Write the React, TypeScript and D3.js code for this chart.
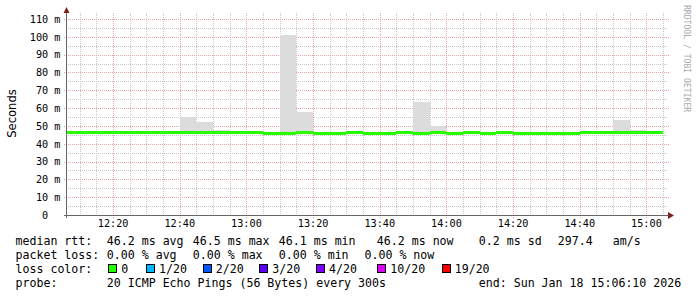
import React from 'react';
import * as d3 from 'd3';

// ---- data ----
const stepStarts = [
  '12:05', '12:10', '12:15', '12:20', '12:25', '12:30', '12:35', '12:40', '12:45',
  '12:50', '12:55', '13:00', '13:05', '13:10', '13:15', '13:20', '13:25', '13:30',
  '13:35', '13:40', '13:45', '13:50', '13:55', '14:00', '14:05', '14:10', '14:15',
  '14:20', '14:25', '14:30', '14:35', '14:40', '14:45', '14:50', '14:55', '15:00',
];
const medianRtt = [
  46.4, 46.4, 46.4, 46.4, 46.4, 46.4, 46.4, 46.4, 46.4,
  46.4, 46.4, 46.4, 45.8, 45.8, 46.4, 45.8, 45.8, 46.4,
  45.8, 45.8, 46.4, 45.8, 46.4, 45.8, 46.4, 45.8, 46.4,
  45.8, 45.8, 45.8, 45.8, 46.4, 46.4, 46.4, 46.4, 46.4,
];
const smokeMax: (number | null)[] = [
  null, null, null, null, null, null, null, 54.8, 52.4,
  47.9, null, null, null, 101.0, 58.0, null, null, null,
  null, null, null, 63.2, 50.1, null, null, null, null,
  null, null, null, null, null, null, 53.5, 47.9, null,
];
const yTickValues = [0, 10, 20, 30, 40, 50, 60, 70, 80, 90, 100, 110];
const yMinorValues = [5, 15, 25, 35, 45, 55, 65, 75, 85, 95, 105];

const rttItems = ['median rtt:', '46.2 ms avg', '46.5 ms max', '46.1 ms min', '46.2 ms now', '0.2 ms sd', '297.4', 'am/s'];
const lossItems = ['packet loss:', '0.00 % avg', '0.00 % max', '0.00 % min', '0.00 % now'];
const lossColorLabels = ['0', '1/20', '2/20', '3/20', '4/20', '10/20', '19/20'];
const lossColors = ['#26ff00', '#00b8ff', '#0059ff', '#5e00ff', '#7e00ff', '#dd00ff', '#ff0000'];
const probeItems = ['probe:', '20 ICMP Echo Pings (56 Bytes) every 300s', 'end: Sun Jan 18 15:06:10 2026'];

// ---- layout ----
const W = 697, H = 297;
const X0 = 67, X1 = 667, Y0 = 215, YTOP = 13;
const rttX = [16, 107.3, 193.3, 279.3, 377.3, 479.3, 558.3, 613.3];
const lossX = [16, 107.3, 193.3, 279.3, 365];
const boxX = [108.3, 146, 202.7, 259.3, 316, 377.3, 441.7];
const probeX = [16, 107.3, 479.3];

const mono = '"DejaVu Sans Mono", monospace';
const parseT = (s: string) => {
  const [h, m] = s.split(':').map(Number);
  return new Date(2026, 0, 18, h, m, 0);
};
const tStart = new Date(2026, 0, 18, 12, 6, 10);
const tEnd = new Date(2026, 0, 18, 15, 6, 10);

export default function App() {
  const x = d3.scaleTime().domain([tStart, tEnd]).range([X0, X1]);
  const y = d3.scaleLinear().domain([0, 110]).range([Y0, 19]);
  const fmt = d3.timeFormat('%H:%M');

  const minorT = d3.timeMinute.every(5)!.range(tStart, tEnd).filter(t => t.getMinutes() % 20 !== 0);
  const majorT = d3.timeMinute.every(20)!.range(tStart, tEnd);

  const px = (v: number) => Math.round(v) + 0.5;
  const clampX = (v: number) => Math.max(X0, Math.min(X1, v));

  const gridGray = '#c6c6c6';
  const gridRed = '#e8a2a2';
  const legendFs = 11.6;
  const axisFs = 10.2;

  return (
    <svg width={W} height={H} style={{ position: 'absolute', left: 0, top: 0 }}>
      <rect x={0} y={0} width={W} height={H} fill="#ffffff" />
      {/* grid */}
      <g shapeRendering="crispEdges">
        {yMinorValues.map(v => (
          <line key={'ym' + v} x1={X0 - 1} x2={X1 + 1} y1={px(y(v))} y2={px(y(v))} stroke={gridGray} strokeDasharray="1,1" />
        ))}
        {minorT.map(t => (
          <line key={'xm' + t.getTime()} x1={px(x(t))} x2={px(x(t))} y1={YTOP} y2={Y0 + 1} stroke={gridGray} strokeDasharray="1,1" />
        ))}
        {yTickValues.filter(v => v > 0).map(v => (
          <line key={'yM' + v} x1={X0 - 3} x2={X1 + 2} y1={px(y(v))} y2={px(y(v))} stroke={gridRed} strokeDasharray="1,1" />
        ))}
        {majorT.map(t => (
          <line key={'xM' + t.getTime()} x1={px(x(t))} x2={px(x(t))} y1={YTOP} y2={Y0 + 3} stroke={gridRed} strokeDasharray="1,1" />
        ))}
      </g>
      {/* smoke */}
      <g shapeRendering="crispEdges">
        {stepStarts.map((s, i) => {
          const mx = smokeMax[i];
          if (mx == null) return null;
          const t0 = parseT(s);
          const t1 = d3.timeMinute.offset(t0, 5);
          const xa = clampX(x(t0)), xb = clampX(x(t1));
          return (
            <rect key={'s' + i} x={Math.round(xa)} width={Math.round(xb) - Math.round(xa)}
              y={Math.round(y(mx))} height={Math.round(y(medianRtt[i])) - Math.round(y(mx))} fill="#dcdcdc" />
          );
        })}
      </g>
      {/* median band */}
      <g shapeRendering="crispEdges">
        {stepStarts.map((s, i) => {
          const t0 = parseT(s);
          const t1 = d3.timeMinute.offset(t0, 5);
          const xa = clampX(x(t0)), xb = clampX(x(t1));
          const yc = y(medianRtt[i]);
          return (
            <rect key={'m' + i} x={Math.round(xa)} width={Math.round(xb) - Math.round(xa)}
              y={Math.round(yc - 1.5)} height={3} fill={lossColors[0]} />
          );
        })}
      </g>
      {/* axes */}
      <g shapeRendering="crispEdges">
        <line x1={X0 - 0.5} x2={X0 - 0.5} y1={Y0 + 3} y2={10} stroke="#666" />
        <line x1={X0 - 3} x2={X1 + 3} y1={Y0 + 0.5} y2={Y0 + 0.5} stroke="#666" />
      </g>
      <path d={`M${X0 - 3.5},13 L${X0 - 0.5},7 L${X0 + 2.5},13 Z`} fill="#7f1f1f" />
      <path d={`M${X1 + 1},212 L${X1 + 7},215.5 L${X1 + 1},219 Z`} fill="#7f1f1f" />
      {/* y labels */}
      <g fontFamily={mono} fontSize={axisFs} fill="#000">
        {yTickValues.map(v => (
          <text key={'yl' + v} x={v === 0 ? 60.5 - 2 * 0.602 * axisFs : 60.5} y={y(v) + 3.8} textAnchor="end">
            {v === 0 ? '0' : `${v} m`}
          </text>
        ))}
        {majorT.map(t => (
          <text key={'xl' + t.getTime()} x={x(t)} y={227} textAnchor="middle">{fmt(t)}</text>
        ))}
      </g>
      <text transform="translate(15.5,113.5) rotate(-90)" textAnchor="middle" fontFamily='"DejaVu Sans", sans-serif' fontSize={11.6} fill="#000">Seconds</text>
      <text transform="translate(683.5,5) rotate(90)" textAnchor="start" fontFamily={mono} fontSize={8.1} fill="#aaaaaa">RRDTOOL / TOBI OETIKER</text>
      {/* legend */}
      <g fontFamily={mono} fontSize={legendFs} fill="#000">
        {rttItems.map((s, i) => (
          <text key={'r' + i} x={rttX[i] - 0.5} y={245}>{s}</text>
        ))}
        {lossItems.map((s, i) => (
          <text key={'l' + i} x={lossX[i] - 0.5} y={259}>{s}</text>
        ))}
        <text x={15.5} y={273}>loss color:</text>
        {lossColorLabels.map((s, i) => (
          <g key={'c' + i}>
            <rect x={Math.round(boxX[i]) + 0.5} y={264.5} width={8} height={8} fill={lossColors[i]} stroke="#000" strokeWidth={1} shapeRendering="crispEdges" />
            <text x={boxX[i] + 13} y={273}>{s}</text>
          </g>
        ))}
        {probeItems.map((s, i) => (
          <text key={'p' + i} x={probeX[i] - 0.5} y={287}>{s}</text>
        ))}
      </g>
    </svg>
  );
}
